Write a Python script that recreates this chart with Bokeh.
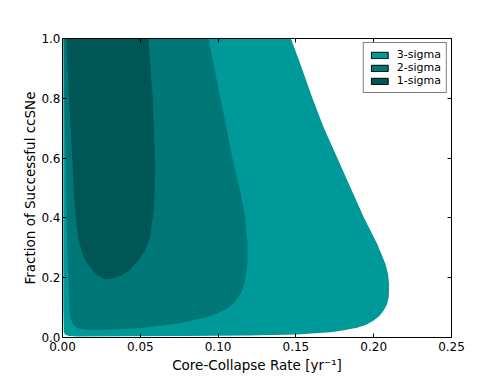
from bokeh.plotting import figure
from bokeh.models import (Range1d, FixedTicker, PrintfTickFormatter, LinearAxis,
                          Legend, LegendItem)
from bokeh.embed import file_html
from bokeh.resources import INLINE

# ---- data: contour boundaries (x = core-collapse rate, y = fraction of successful ccSNe) ----
sigma3_x = [0.0005, 0.1468, 0.1528, 0.1604, 0.1678, 0.1764, 0.1850, 0.1936, 0.2022,
            0.2075, 0.2092, 0.2099, 0.2097, 0.2085, 0.2064, 0.2037, 0.2000, 0.1952,
            0.1893, 0.1810, 0.1721, 0.1507, 0.1200, 0.0800, 0.0400, 0.0100, 0.0040,
            0.0015, 0.0008, 0.0005]
sigma3_y = [1.000, 1.000, 0.9154, 0.8037, 0.7033, 0.6030, 0.5027, 0.4023, 0.3134,
            0.2465, 0.2120, 0.1796, 0.1348, 0.1100, 0.0903, 0.0720, 0.0569, 0.0430,
            0.0324, 0.0240, 0.0177, 0.0100, 0.0065, 0.0050, 0.0040, 0.0035, 0.0050,
            0.0100, 0.0200, 0.1000]

sigma2_x = [0.0008, 0.0938, 0.0970, 0.1014, 0.1057, 0.1099, 0.1142, 0.1174, 0.1189,
            0.1189, 0.1174, 0.1157, 0.1131, 0.1098, 0.1057, 0.0995, 0.0928, 0.0756,
            0.0499, 0.0273, 0.0150, 0.0100, 0.0070, 0.0048, 0.0043, 0.0030, 0.0020,
            0.0012]
sigma2_y = [1.000, 1.000, 0.9154, 0.8037, 0.6923, 0.5809, 0.4916, 0.4023, 0.3134,
            0.2465, 0.1906, 0.1600, 0.1348, 0.1130, 0.0960, 0.0800, 0.0679, 0.0478,
            0.0311, 0.0260, 0.0260, 0.0300, 0.0420, 0.0680, 0.1200, 0.3000, 0.6000,
            0.8000]

sigma1_x = [0.0024, 0.0552, 0.0580, 0.0595, 0.0589, 0.0563, 0.0530, 0.0486, 0.0430,
            0.0380, 0.0320, 0.0273, 0.0209, 0.0145, 0.0102, 0.0080, 0.0070, 0.0058,
            0.0040]
sigma1_y = [1.000, 1.000, 0.800, 0.580, 0.436, 0.335, 0.290, 0.258, 0.225,
            0.207, 0.197, 0.194, 0.213, 0.258, 0.324, 0.420, 0.525, 0.640,
            0.820]

labels = ["3-sigma", "2-sigma", "1-sigma"]
colors = ["#009999", "#007777", "#005555"]

x_ticks = [0.0, 0.05, 0.10, 0.15, 0.20, 0.25]
y_ticks = [0.0, 0.2, 0.4, 0.6, 0.8, 1.0]

FONT = "DejaVu Sans"

p = figure(width=501, height=376, x_range=Range1d(0, 0.25), y_range=Range1d(0, 1.0),
           output_backend="svg", toolbar_location=None,
           min_border_left=62, min_border_right=50, min_border_top=38, min_border_bottom=39)
p.grid.visible = False
p.outline_line_color = "black"
p.outline_line_width = 1
p.background_fill_color = "white"

for xs, ys, c in zip([sigma3_x, sigma2_x, sigma1_x], [sigma3_y, sigma2_y, sigma1_y], colors):
    p.patch(xs, ys, fill_color=c, line_color=None)

# legend swatch renderers (black outline like the reference); placed outside the visible range
leg_items = []
for lab, c in zip(labels, colors):
    r = p.quad(left=[1.0], right=[1.1], top=[2.0], bottom=[1.5],
               fill_color=c, line_color="black", line_width=1)
    leg_items.append(LegendItem(label=lab, renderers=[r]))

legend = Legend(items=leg_items, location="top_right")
legend.label_text_font = FONT
legend.label_text_font_size = "11px"
legend.label_text_color = "black"
legend.glyph_width = 21
legend.glyph_height = 8
legend.label_standoff = 7
legend.label_height = 12
legend.spacing = 0
legend.padding = 5
legend.margin = 4
legend.border_line_color = "black"
legend.border_line_width = 1
legend.background_fill_alpha = 1.0
p.add_layout(legend)

def style_axis(ax, ticks, fmt, show_labels=True):
    ax.ticker = FixedTicker(ticks=ticks)
    ax.formatter = PrintfTickFormatter(format=fmt)
    ax.major_tick_in = 4
    ax.major_tick_out = 0
    ax.minor_tick_line_color = None
    ax.axis_line_color = "black"
    ax.major_tick_line_color = "black"
    ax.major_label_text_font = FONT
    ax.major_label_text_font_size = "12px"
    ax.major_label_text_color = "black"
    ax.axis_label_text_font = FONT
    ax.axis_label_text_font_style = "normal"
    ax.axis_label_text_font_size = "13.5px"
    ax.axis_label_text_color = "black"
    if not show_labels:
        ax.major_label_overrides = {t: "" for t in ticks}

xa = p.xaxis[0]
ya = p.yaxis[0]
style_axis(xa, x_ticks, "%.2f")
style_axis(ya, y_ticks, "%.1f")
xa.axis_label = "Core-Collapse Rate [yr\u207b\u00b9]"
ya.axis_label = "Fraction of Successful ccSNe"
xa.major_label_standoff = 4
xa.axis_label_standoff = 3
ya.major_label_standoff = 2
ya.axis_label_standoff = 0

top_ax = LinearAxis()
style_axis(top_ax, x_ticks, "%.2f", show_labels=False)
top_ax.major_label_standoff = 0
right_ax = LinearAxis()
style_axis(right_ax, y_ticks, "%.1f", show_labels=False)
right_ax.major_label_standoff = 0
p.add_layout(top_ax, "above")
p.add_layout(right_ax, "right")

open("out.html", "w").write(file_html(p, INLINE))
